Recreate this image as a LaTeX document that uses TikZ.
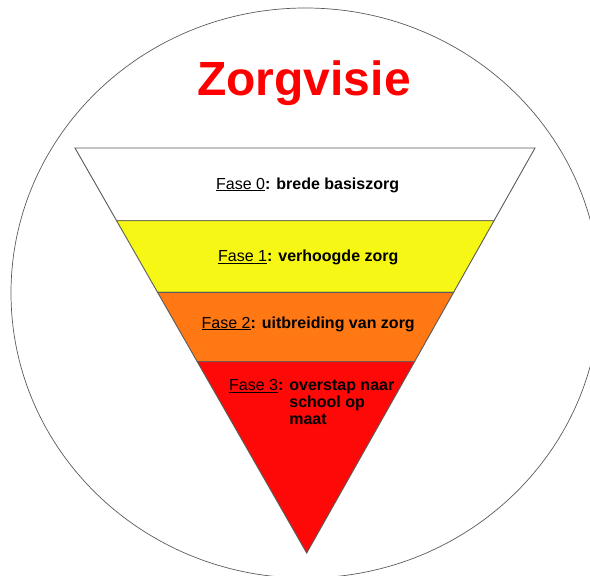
\documentclass[tikz,border=0pt]{standalone}
\usepackage{fontspec}
\setmainfont{Liberation Sans}
\usetikzlibrary{calc}
\definecolor{zgyellow}{RGB}{247,247,22}
\definecolor{zgorange}{RGB}{255,120,20}
\definecolor{zgred}{RGB}{255,8,8}
\definecolor{zgline}{RGB}{90,90,90}
\tikzset{band/.style={draw=zgline,line width=0.9pt},
	fase/.style={anchor=base west,inner sep=0pt,font=\fontsize{16}{17}\selectfont}}
\begin{document}
\begin{tikzpicture}[x=1pt,y=-1pt]
	\useasboundingbox (0,0) rectangle (590,576);
	\clip (0,0) rectangle (590,576);
	\draw[zgline,line width=0.7pt] (305.5,293) ellipse [x radius=294.5,y radius=285];
	\node[anchor=base,text=red,inner sep=0pt,font=\fontsize{48}{52}\selectfont\bfseries] (title) at (304,95) {Zorgvisie};
	% triangle corners and band edges
	\coordinate (tl) at (75,148);
	\coordinate (tr) at (535,148);
	\coordinate (apex) at (306.7,553);
	\foreach \t/\n in {0.1795/a,0.3563/b,0.5277/c}{
		\coordinate (l\n) at ($(tl)!\t!(apex)$);
		\coordinate (r\n) at ($(tr)!\t!(apex)$);
	}
	\filldraw[band,fill=white] (tl) -- (tr) -- (ra) -- (la) -- cycle;
	\filldraw[band,fill=zgyellow] (la) -- (ra) -- (rb) -- (lb) -- cycle;
	\filldraw[band,fill=zgorange] (lb) -- (rb) -- (rc) -- (lc) -- cycle;
	\filldraw[band,fill=zgred] (lc) -- (rc) -- (apex) -- cycle;
	\node[fase] (f0) at (216,189) {\underline{Fase 0}\textbf{: brede basiszorg}};
	\node[fase] (f1) at (218,261.5) {\underline{Fase 1}\textbf{: verhoogde zorg}};
	\node[fase] (f2) at (201.5,328) {\underline{Fase 2}\textbf{: uitbreiding van zorg}};
	\node[fase] (f3) at (229,390.5) {\underline{Fase 3}\textbf{:
		\begin{tabular}[t]{@{}l@{}}overstap naar\\school op\\maat\end{tabular}}};
\end{tikzpicture}
\end{document}
